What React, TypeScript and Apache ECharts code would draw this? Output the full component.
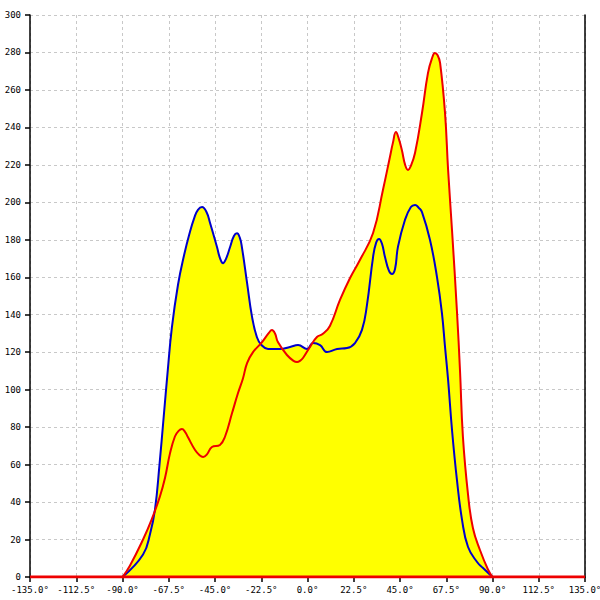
import React, { useEffect, useRef } from "react";
import * as echarts from "echarts";

// angle (degrees) and value pairs
const blueAngles = [-90, -80, -76.6, -74.2, -72, -70, -68, -66, -63, -60, -57.5, -55, -53.3, -51.3, -49.2, -47.4, -44.0, -42.5, -41.1, -39.6, -37.7, -35.8, -34.3, -32.9, -31.9, -29.4, -27.0, -24.6, -22.5, -19.2, -13.4, -8.5, -4.6, -0.2, 2.7, 6.1, 9.5, 14.4, 19.2, 23.1, 26.5, 28.9, 31.9, 33.4, 34.8, 36.2, 37.7, 39.6, 41.1, 42.6, 44.0, 47.4, 50.3, 52.3, 54.2, 55.7, 59.6, 63.0, 65.4, 66.9, 68.4, 70.3, 72.7, 75.2, 78.1, 82.5, 85.4, 90];
const blueValues = [0, 12, 23, 36, 60, 85, 110, 133, 156, 172, 183, 192, 196, 197.5, 195, 189, 176, 170, 167.5, 170, 176, 182, 183.5, 181, 176, 157, 139, 128, 124, 121.7, 121.7, 122.8, 123.8, 121.7, 124.9, 123.8, 120.1, 121.7, 122.2, 124.9, 131.9, 145, 170.8, 178.5, 180.4, 178, 170.8, 163.5, 161.7, 164.5, 176.2, 190.6, 197.5, 198.6, 197, 194.8, 179.9, 160.1, 140.9, 122.8, 105.2, 78.5, 51.8, 30.4, 16, 8, 4.8, 0];

const redAngles = [-90, -86.4, -80.0, -75.7, -71.8, -69.3, -66.9, -64.5, -62.7, -61.1, -59.6, -58.2, -54.7, -52.5, -50.8, -49.0, -46.5, -42.6, -40.1, -36.7, -33.8, -31.4, -29.4, -26.5, -22.1, -18.8, -17.3, -15.8, -14.4, -10.0, -6.8, -5.1, -3.5, -2.2, 1.2, 4.6, 7.5, 10.9, 15.8, 20.7, 25.5, 31.9, 36.7, 40.1, 41.6, 43.0, 44.4, 45.9, 47.5, 48.9, 50.3, 52.3, 55.7, 58.6, 60.6, 62.0, 63.3, 64.5, 66.9, 68.4, 70.3, 72.7, 74.2, 75.6, 78.1, 80.5, 83.9, 87.8, 90];
const redValues = [0, 6, 20, 31, 43, 53, 66, 75, 78, 79, 77.5, 74.7, 67.8, 65, 64.1, 65.3, 69.4, 70.5, 75, 87.5, 98.2, 106, 114.2, 120, 125.4, 130.3, 131.9, 130, 125.4, 118.5, 115.4, 114.8, 115.5, 116.9, 122.8, 128.1, 129.8, 134, 147.9, 159.6, 169.2, 183.6, 206.6, 224.2, 232, 237.5, 234, 227.9, 220, 217.3, 219.5, 226.3, 247.7, 269, 277, 279.7, 278.5, 274.4, 247.7, 217.3, 185.2, 142, 110, 75, 44, 26, 14.4, 4, 0];

const baselineAngles = [-135, 135];
const baselineValues = [0, 0];

const xMin = -135;
const xMax = 135;
const xStep = 22.5;
const yMin = 0;
const yMax = 300;
const yStep = 20;

const pairs = (xs: number[], ys: number[]) => xs.map((x, i) => [x, ys[i]]);

export default function App() {
  const ref = useRef<HTMLDivElement>(null);
  useEffect(() => {
    if (!ref.current) return;
    const chart = echarts.init(ref.current, undefined, { renderer: "svg" });
    const font = { fontFamily: "DejaVu Sans Mono", fontSize: 9, color: "#000" };
    const gridLine = { show: true, lineStyle: { color: "#c8c8c8", type: [3, 3] as any, width: 1 } };
    const smooth = 0.45;
    chart.setOption({
      animation: false,
      backgroundColor: "#fff",
      grid: { left: 30, right: 15, top: 15, bottom: 23, containLabel: false, outerBoundsMode: "none" },
      xAxis: {
        type: "value",
        min: xMin,
        max: xMax,
        interval: xStep,
        axisLine: { show: true, onZero: false, lineStyle: { color: "#000", width: 1.5 } },
        axisTick: { show: true, length: 5, lineStyle: { color: "#000", width: 1.5 } },
        axisLabel: { ...font, margin: 8, formatter: (v: number) => v.toFixed(1) + "°" },
        splitLine: gridLine,
      },
      yAxis: [
        {
          type: "value",
          min: yMin,
          max: yMax,
          interval: yStep,
          axisLine: { show: true, onZero: false, lineStyle: { color: "#000", width: 1.5 } },
          axisTick: { show: true, length: 5, lineStyle: { color: "#000", width: 1.5 } },
          axisLabel: { ...font, margin: 9 },
          splitLine: gridLine,
        },
        {
          type: "value",
          position: "right",
          min: yMin,
          max: yMax,
          interval: yStep,
          axisLine: { show: true, onZero: false, lineStyle: { color: "#000", width: 1.5 } },
          axisTick: { show: false },
          axisLabel: { show: false },
          splitLine: { show: false },
        },
      ],
      series: [
        {
          type: "line",
          data: pairs(blueAngles, blueValues),
          smooth,
          showSymbol: false,
          lineStyle: { width: 0 },
          areaStyle: { color: "#ffff00", opacity: 1 },
          z: 1,
        },
        {
          type: "line",
          data: pairs(redAngles, redValues),
          smooth,
          showSymbol: false,
          lineStyle: { width: 0 },
          areaStyle: { color: "#ffff00", opacity: 1 },
          z: 1,
        },
        {
          type: "line",
          data: pairs(blueAngles, blueValues),
          smooth,
          showSymbol: false,
          lineStyle: { width: 2, color: "#0000cc" },
          z: 3,
        },
        {
          type: "line",
          data: pairs(redAngles, redValues),
          smooth,
          showSymbol: false,
          lineStyle: { width: 2, color: "#ee0000" },
          z: 4,
        },
        {
          type: "line",
          data: pairs(baselineAngles, baselineValues),
          showSymbol: false,
          lineStyle: { width: 3, color: "#ee0000" },
          z: 5,
        },
      ],
    });
    return () => chart.dispose();
  }, []);
  return (
    <div
      ref={ref}
      style={{ position: "fixed", left: 0, top: 0, width: 600, height: 600, background: "#fff" }}
    />
  );
}
